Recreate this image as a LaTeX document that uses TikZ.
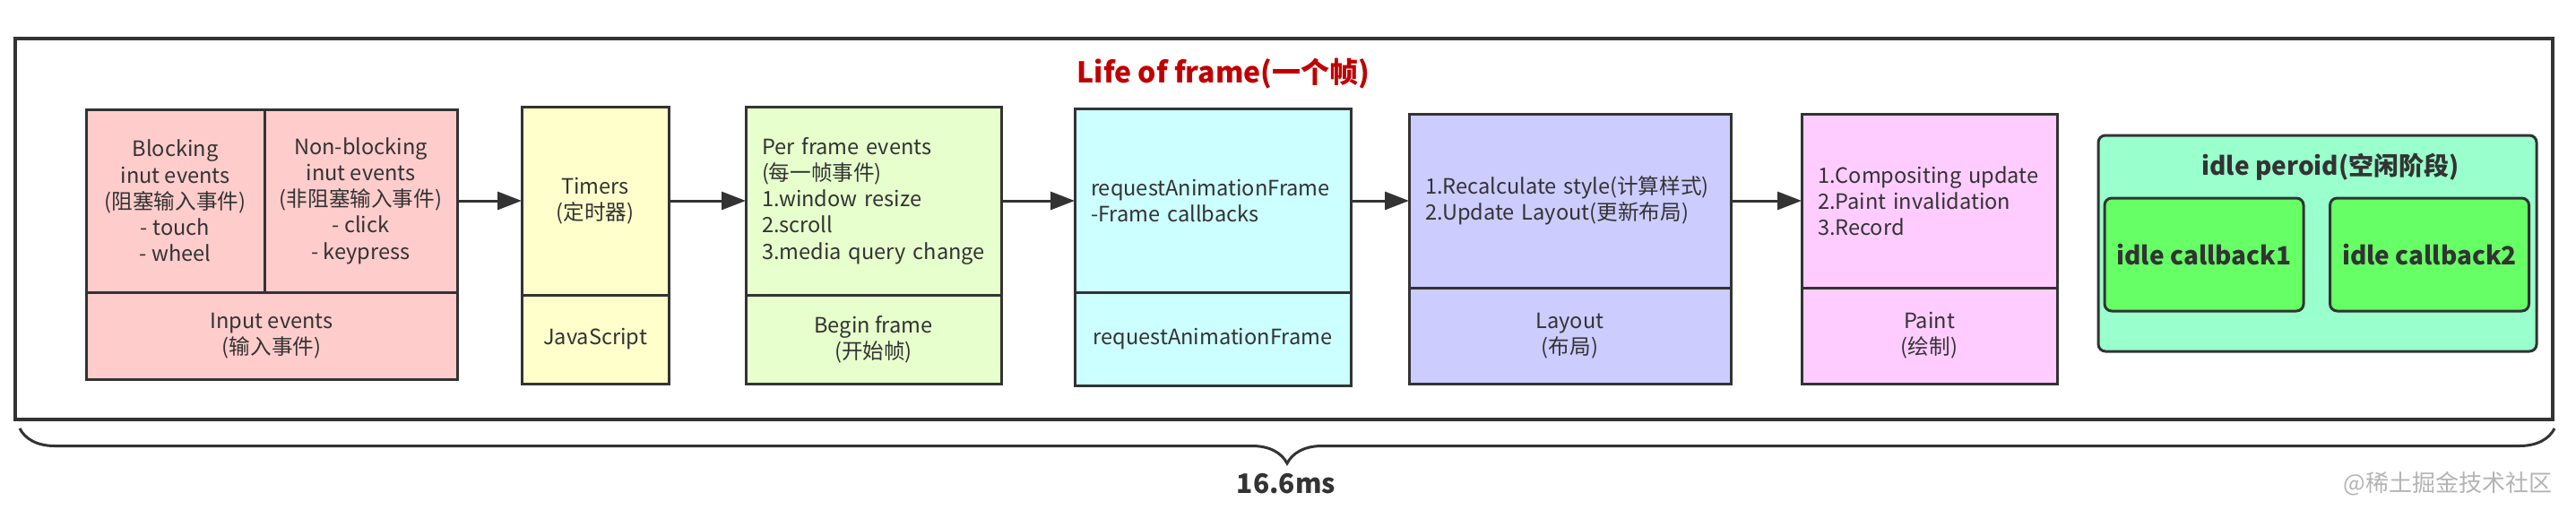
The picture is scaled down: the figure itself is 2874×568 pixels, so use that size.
\documentclass[tikz,border=0pt]{standalone}
\usepackage{fontspec}
\setmainfont{Noto Sans CJK SC}
\usepackage{tikz}
\usetikzlibrary{positioning,arrows.meta,decorations.pathreplacing}
\hyphenpenalty=10000

\definecolor{linegray}{HTML}{333333}
\definecolor{textgray}{HTML}{333333}
\definecolor{inputred}{HTML}{FFCCCC}
\definecolor{timeryellow}{HTML}{FFFFCC}
\definecolor{framegreen}{HTML}{E6FFCC}
\definecolor{rafcyan}{HTML}{CCFFFF}
\definecolor{layoutblue}{HTML}{CCCCFF}
\definecolor{paintpink}{HTML}{FFCCFF}
\definecolor{idlemint}{HTML}{99FFCC}
\definecolor{callgreen}{HTML}{66FF66}
\definecolor{titlered}{HTML}{C00000}
\definecolor{markgray}{HTML}{B4B4B4}

\begin{document}
\begin{tikzpicture}[x=0.5pt,y=-0.5pt,>={Triangle[length=13.5pt,width=10pt]},
	part/.style={draw=linegray,line width=1.5pt,outer sep=0pt,inner sep=0pt,align=center,text=textgray,font=\fontsize{11.8pt}{14.6pt}\selectfont},
	listpart/.style={part,align=left,inner xsep=9pt},
	arrowline/.style={draw=linegray,line width=1.5pt},
	callbox/.style={draw=linegray,line width=1.5pt,rounded corners=4pt,fill=callgreen,minimum width=111pt,minimum height=63pt,text=textgray,font=\bfseries\fontsize{14pt}{16pt}\selectfont}]
					\fill[white] (0,0) rectangle (2874,568);
					\useasboundingbox (0,0) rectangle (2874,568);

					% outer frame and title
					\draw[line width=1.75pt,draw=linegray] (17,43) rectangle (2848,468);
					\node[text=titlered,font=\bfseries\fontsize{16pt}{20pt}\selectfont] (title) at (1365,82) {Life of frame(一个帧)};

					% input events
					\node[part,fill=inputred,minimum width=99.5pt,minimum height=102pt] (blocking) at (195.5,224) {Blocking\\inut events\\(阻塞输入事件)\\- touch\\- wheel};
					\node[part,fill=inputred,minimum width=107.5pt,minimum height=102pt,right=0pt of blocking] (nonblock) {Non-blocking\\inut events\\(非阻塞输入事件)\\- click\\- keypress};
					\node[part,fill=inputred,minimum width=207pt,minimum height=48.5pt,anchor=north west] (inputbot) at (blocking.south west) {Input events\\(输入事件)};

					% timers
					\node[part,fill=timeryellow,minimum width=82pt,minimum height=105pt,right=36pt of nonblock] (timers) {Timers\\(定时器)};
					\node[part,fill=timeryellow,minimum width=82pt,minimum height=49.5pt,below=0pt of timers] (timersbot) {JavaScript};

					% begin frame
					\node[listpart,fill=framegreen,minimum width=142.5pt,text width=124.5pt,minimum height=105pt,right=43pt of timers] (perframe) {Per frame events\\(每一帧事件)\\1.window resize\\2.scroll\\\mbox{3.media query change}};
					\node[part,fill=framegreen,minimum width=142.5pt,minimum height=49.5pt,below=0pt of perframe] (beginbot) {Begin frame\\(开始帧)};

					% requestAnimationFrame
					\node[listpart,fill=rafcyan,minimum width=154pt,text width=136pt,minimum height=102.5pt,right=41pt of perframe] (raf) {requestAnimationFrame\\-Frame callbacks};
					\node[part,fill=rafcyan,minimum width=154pt,minimum height=52pt,below=0pt of raf] (rafbot) {requestAnimationFrame};

					% layout
					\node[listpart,fill=layoutblue,minimum width=179.5pt,text width=161.5pt,minimum height=97pt,right=32.5pt of raf] (recalc) {\mbox{1.Recalculate style(计算样式)}\\\mbox{2.Update Layout(更新布局)}};
					\node[part,fill=layoutblue,minimum width=179.5pt,minimum height=53.5pt,below=0pt of recalc] (layoutbot) {Layout\\(布局)};

					% paint
					\node[listpart,fill=paintpink,minimum width=142.5pt,text width=124.5pt,minimum height=97pt,right=39.5pt of recalc] (paint) {\mbox{1.Compositing update}\\2.Paint invalidation\\3.Record};
					\node[part,fill=paintpink,minimum width=142.5pt,minimum height=53.5pt,below=0pt of paint] (paintbot) {Paint\\(绘制)};

					% arrows between stages
					\draw[arrowline,->] (nonblock) -- (timers);
					\draw[arrowline,->] (timers) -- (perframe);
					\draw[arrowline,->] (perframe) -- (raf);
					\draw[arrowline,->] (raf) -- (recalc);
					\draw[arrowline,->] (recalc) -- (paint);

					% idle period
					\node[draw=linegray,line width=1.5pt,rounded corners=4pt,fill=idlemint,minimum width=244.5pt,minimum height=120.5pt] (idle) at (2585.5,271.5) {};
					\node[text=textgray,font=\bfseries\fontsize{14pt}{16pt}\selectfont] (idletitle) at (2600,186) {idle peroid(空闲阶段)};
					\node[callbox] (idleone) at (2459,284) {idle callback1};
					\node[callbox] (idletwo) at (2710.5,284) {idle callback2};

					% brace under the frame
					\coordinate (bracestart) at (22,478);
					\coordinate (braceend) at (2850,478);
					\draw[linegray,line width=1.5pt,decorate,decoration={brace,mirror,amplitude=19.5pt}] (bracestart) -- (braceend);
					\node[text=textgray,font=\bfseries\fontsize{15pt}{18pt}\selectfont] (duration) at (1435,540) {16.6ms};
					\node[text=markgray,font=\fontsize{13pt}{16pt}\selectfont] (watermark) at (2731,540) {@稀土掘金技术社区};
				\end{tikzpicture}
\end{document}
